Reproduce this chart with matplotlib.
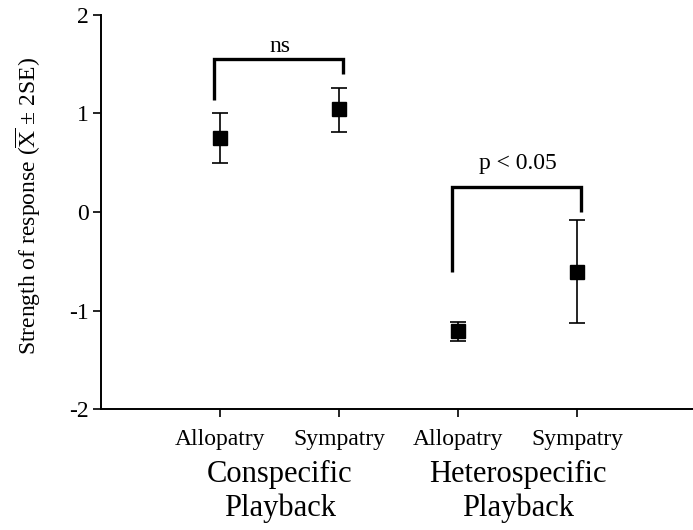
import matplotlib
matplotlib.use("Agg")
import matplotlib.pyplot as plt

plt.rcParams['font.family'] = ['Liberation Serif', 'DejaVu Serif']
plt.rcParams['mathtext.fontset'] = 'custom'
plt.rcParams['mathtext.rm'] = 'Liberation Serif'
plt.rcParams['mathtext.it'] = 'Liberation Serif:italic'

categories = ["Allopatry", "Sympatry", "Allopatry", "Sympatry"]
groups = ["Conspecific\nPlayback", "Heterospecific\nPlayback"]
means = [0.75, 1.04, -1.21, -0.61]
err_low = [0.50, 0.81, -1.31, -1.13]
err_high = [1.00, 1.26, -1.12, -0.08]
yticks = [-2, -1, 0, 1, 2]

# brackets: (x_left, x_right, y_top, y_left_end, y_right_end, label)
brackets = [
    (1, 2, 1.55, 1.14, 1.40, "ns"),
    (3, 4, 0.25, -0.61, 0.0, "p < 0.05"),
]
label_gap = [0.07, 0.19]

fig = plt.figure(figsize=(6.93, 5.30), dpi=100)
ax = fig.add_axes([0.146, 0.228, 0.854, 0.744])

xs = list(range(1, len(categories) + 1))
yerr = [[m - l for m, l in zip(means, err_low)], [h - m for m, h in zip(means, err_high)]]
ax.errorbar(xs, means, yerr=yerr, fmt='s', color='black', ms=10, capsize=6,
            elinewidth=1.2, capthick=1.2, zorder=3)

for (xl, xr, yt, yl, yr, lab), gap in zip(brackets, label_gap):
    xl_off, xr_off = xl - 0.05, xr + 0.03
    ax.plot([xl_off, xl_off, xr_off, xr_off], [yl, yt, yt, yr], color='black', lw=2.4,
            solid_joinstyle='miter', solid_capstyle='butt')
    ax.text((xl + xr) / 2, yt + gap, lab, ha='center', va='baseline', fontsize=17)

ax.set_xlim(0.0, 4.97)
ax.set_ylim(-2, 2)
ax.set_yticks(yticks)
ax.set_yticklabels([str(t) for t in yticks])
ax.set_xticks(xs)
ax.set_xticklabels(categories)
ax.tick_params(axis='both', labelsize=17, length=6, width=1.2, direction='out', pad=3)
ax.tick_params(axis='x', pad=8)
for s in ['top', 'right']:
    ax.spines[s].set_visible(False)
for s in ['left', 'bottom']:
    ax.spines[s].set_linewidth(1.4)

ax.set_ylabel(r'Strength of response ($\overline{\mathrm{X}}$ $\pm$ 2SE)', fontsize=17)
ax.yaxis.set_label_coords(-0.098, 0.515)

for i, g in enumerate(groups):
    ax.text((xs[2 * i] + xs[2 * i + 1]) / 2, -2.52, g, ha='center', va='top',
            fontsize=22, linespacing=1.2)

fig.savefig("out.png", dpi=100)
